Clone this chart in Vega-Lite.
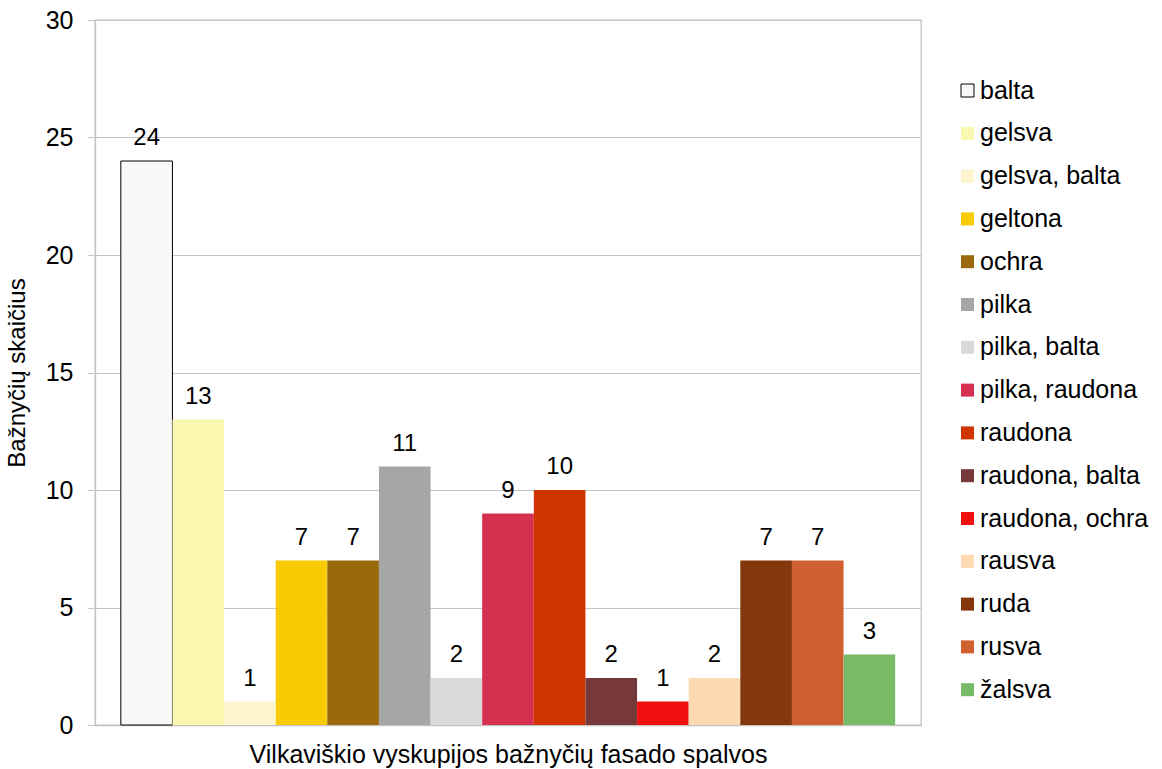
{
  "$schema": "https://vega.github.io/schema/vega-lite/v6.json",
  "width": 826,
  "height": 705,
  "autosize": {"type": "none"},
  "padding": {"left": 95, "top": 20, "right": 241, "bottom": 44},
  "background": "white",
  "config": {
    "font": "Liberation Sans",
    "view": {"stroke": "#c4c4c4", "strokeWidth": 1.3}
  },
  "data": {
    "values": [
      {"spalva": "balta", "n": 24},
      {"spalva": "gelsva", "n": 13},
      {"spalva": "gelsva, balta", "n": 1},
      {"spalva": "geltona", "n": 7},
      {"spalva": "ochra", "n": 7},
      {"spalva": "pilka", "n": 11},
      {"spalva": "pilka, balta", "n": 2},
      {"spalva": "pilka, raudona", "n": 9},
      {"spalva": "raudona", "n": 10},
      {"spalva": "raudona, balta", "n": 2},
      {"spalva": "raudona, ochra", "n": 1},
      {"spalva": "rausva", "n": 2},
      {"spalva": "ruda", "n": 7},
      {"spalva": "rusva", "n": 7},
      {"spalva": "žalsva", "n": 3}
    ]
  },
  "encoding": {
    "x": {
      "field": "spalva",
      "type": "nominal",
      "sort": null,
      "scale": {"paddingInner": 0, "paddingOuter": 0.5},
      "axis": {
        "title": "Vilkaviškio vyskupijos bažnyčių fasado spalvos",
        "titleFontSize": 25,
        "titleFontWeight": "normal",
        "titleColor": "#000000",
        "titlePadding": 17,
        "labels": false,
        "ticks": false,
        "domainColor": "#c4c4c4",
        "domainWidth": 1.3
      }
    },
    "y": {
      "field": "n",
      "type": "quantitative",
      "scale": {"domain": [0, 30]},
      "axis": {
        "title": "Bažnyčių skaičius",
        "titleFontSize": 24,
        "titleFontWeight": "normal",
        "titleColor": "#000000",
        "titlePadding": 16,
        "values": [0, 5, 10, 15, 20, 25, 30],
        "labelFontSize": 25,
        "labelColor": "#000000",
        "labelPadding": 14,
        "tickSize": 8,
        "tickColor": "#c4c4c4",
        "gridColor": "#c4c4c4",
        "gridWidth": 1.1,
        "domainColor": "#c4c4c4",
        "domainWidth": 1.3
      }
    }
  },
  "layer": [
    {
      "mark": {"type": "bar"},
      "encoding": {
        "color": {
          "field": "spalva",
          "type": "nominal",
          "sort": null,
          "scale": {
            "domain": ["balta", "gelsva", "gelsva, balta", "geltona", "ochra", "pilka", "pilka, balta", "pilka, raudona", "raudona", "raudona, balta", "raudona, ochra", "rausva", "ruda", "rusva", "žalsva"],
            "range": ["#f8f8f8", "#faf8b0", "#fef4d0", "#f9cb05", "#9a690c", "#a6a6a6", "#d9d9d9", "#d63050", "#d03400", "#763838", "#f01010", "#fedab3", "#84370b", "#d06030", "#77bb66"]
          },
          "legend": {
            "title": null,
            "orient": "none",
            "legendX": 860,
            "legendY": 58,
            "symbolType": "square",
            "symbolSize": 169,
            "symbolStrokeColor": "#000000",
            "labelFontSize": 25,
            "labelColor": "#000000",
            "labelOffset": 0,
            "rowPadding": 16.8,
            "labelLimit": 300,
            "encode": {
              "symbols": {
                "update": {
                  "strokeWidth": {"signal": "datum.value === 'balta' ? 1 : 0"}
                }
              }
            }
          }
        },
        "stroke": {
          "condition": {"test": "datum.spalva === 'balta'", "value": "#000000"},
          "value": null
        },
        "strokeWidth": {"value": 1}
      }
    },
    {
      "mark": {"type": "text", "fontSize": 24, "baseline": "alphabetic", "dy": -16, "color": "#000000"},
      "encoding": {
        "text": {"field": "n", "type": "quantitative"}
      }
    }
  ]
}
